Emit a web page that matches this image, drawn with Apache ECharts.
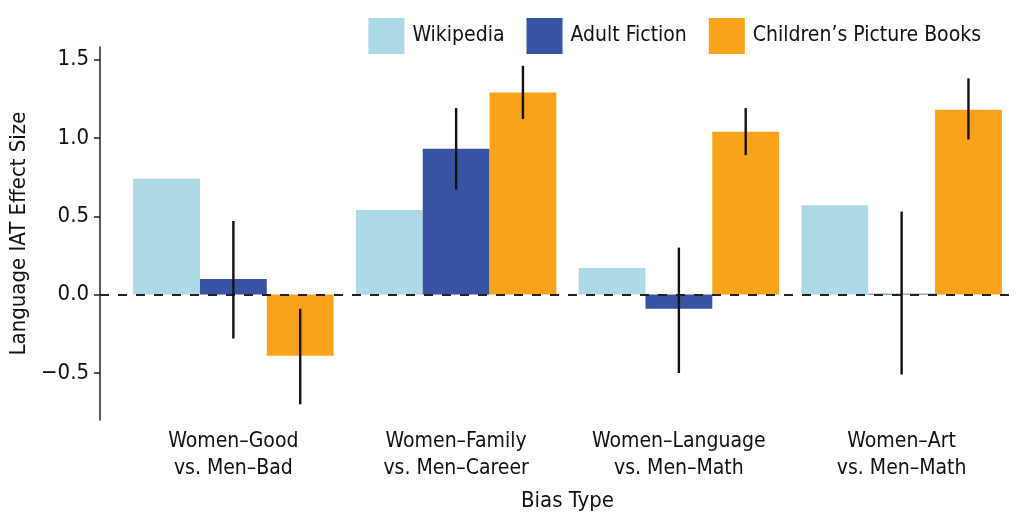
<!DOCTYPE html>
<html>
<head>
<meta charset="utf-8">
<script src="https://cdn.jsdelivr.net/npm/echarts@6/dist/echarts.min.js"></script>
<style>
  html, body { margin: 0; padding: 0; background: #fff; }
  #chart { width: 1020px; height: 514px; }
</style>
</head>
<body>
<div id="chart"></div>
<script>
// data
const categories = [
  'Women–Good\nvs. Men–Bad',
  'Women–Family\nvs. Men–Career',
  'Women–Language\nvs. Men–Math',
  'Women–Art\nvs. Men–Math',
];
const seriesNames = ['Wikipedia', 'Adult Fiction', 'Children’s Picture Books'];
const wikipedia = [0.74, 0.54, 0.17, 0.57];
const adultFiction = [0.10, 0.93, -0.09, 0.006];
const childrens = [-0.39, 1.29, 1.04, 1.18];
// 95% intervals [low, high]
const adultCI = [[-0.28, 0.47], [0.67, 1.19], [-0.50, 0.30], [-0.51, 0.53]];
const childCI = [[-0.70, -0.09], [1.12, 1.46], [0.89, 1.19], [0.99, 1.38]];
const yTicks = [-0.5, 0, 0.5, 1, 1.5];

const colors = ['#ADD8E6', '#3953A4', '#F9A31B'];
const FONT = "'Liberation Sans Narrow', 'DejaVu Sans Condensed', 'Liberation Sans', sans-serif";

const chart = echarts.init(document.getElementById('chart'));

// error bar drawn at the bar slot `slot` (0,1,2) inside each category
function errorBar(slot) {
  return function (params, api) {
    const lo = api.coord([api.value(0), api.value(1)]);
    const hi = api.coord([api.value(0), api.value(2)]);
    const band = api.size([1, 0])[0];
    const bw = band * 0.9 / 3;
    const x = lo[0] + (slot - 1) * bw;
    return {
      type: 'line',
      shape: { x1: x, y1: lo[1], x2: x, y2: hi[1] },
      style: { stroke: '#111', lineWidth: 2.4 },
    };
  };
}

const fmt = (v) => (v < 0 ? '−' + Math.abs(v).toFixed(1) : v.toFixed(1));

const option = {
  animation: false,
  textStyle: { fontFamily: FONT },
  legend: {
    top: 13,
    right: 34,
    icon: 'rect',
    itemWidth: 36,
    itemHeight: 36,
    itemGap: 22,
    textStyle: { fontFamily: FONT, fontSize: 21, color: '#111', padding: [0, 0, 0, 3] },
    data: seriesNames,
  },
  grid: { left: 122, right: 7, top: 47, bottom: 94, outerBoundsMode: 'none' },
  xAxis: {
    type: 'category',
    data: categories,
    axisLine: { show: false },
    axisTick: { show: false },
    axisLabel: {
      margin: 8,
      fontFamily: FONT,
      fontSize: 21,
      lineHeight: 27,
      color: '#111',
      interval: 0,
    },
    name: 'Bias Type',
    nameLocation: 'middle',
    nameGap: 70,
    nameTextStyle: { fontFamily: FONT, fontSize: 22, color: '#111' },
  },
  yAxis: {
    type: 'value',
    min: -0.8,
    max: 1.58,
    offset: 22,
    axisLine: { show: true, lineStyle: { color: '#222', width: 1.5 } },
    axisTick: {
      show: true,
      length: 6,
      customValues: yTicks,
      lineStyle: { color: '#222', width: 1.5 },
    },
    axisLabel: {
      customValues: yTicks,
      formatter: fmt,
      margin: 11,
      fontFamily: FONT,
      fontSize: 22,
      color: '#111',
    },
    splitLine: { show: false },
    name: 'Language IAT Effect Size',
    nameLocation: 'middle',
    nameGap: 62,
    nameRotate: 90,
    nameTextStyle: { fontFamily: FONT, fontSize: 22, color: '#111' },
  },
  series: [
    {
      name: seriesNames[0],
      type: 'bar',
      data: wikipedia,
      itemStyle: { color: colors[0] },
      barGap: '0%',
      barCategoryGap: '10%',
      markLine: {
        silent: true,
        symbol: 'none',
        label: { show: false },
        lineStyle: { color: '#222', width: 2, type: [9, 9] },
        data: [[{ x: 100, yAxis: 0 }, { x: 1012, yAxis: 0 }]],
        z: 5,
      },
    },
    {
      name: seriesNames[1],
      type: 'bar',
      data: adultFiction,
      itemStyle: { color: colors[1] },
      barGap: '0%',
      barCategoryGap: '10%',
    },
    {
      name: seriesNames[2],
      type: 'bar',
      data: childrens,
      itemStyle: { color: colors[2] },
      barGap: '0%',
      barCategoryGap: '10%',
    },
    {
      type: 'custom',
      renderItem: errorBar(1),
      data: adultCI.map((c, i) => [i, c[0], c[1]]),
      encode: { x: 0, y: [1, 2] },
      z: 10,
      silent: true,
    },
    {
      type: 'custom',
      renderItem: errorBar(2),
      data: childCI.map((c, i) => [i, c[0], c[1]]),
      encode: { x: 0, y: [1, 2] },
      z: 10,
      silent: true,
    },
  ],
};

chart.setOption(option);
</script>
</body>
</html>
